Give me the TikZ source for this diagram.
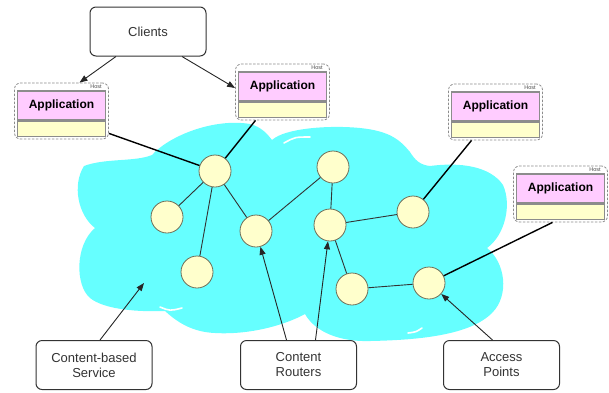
\documentclass[tikz,border=0pt]{standalone}
\usepackage{fontspec}
\setmainfont{Liberation Sans}
\usetikzlibrary{arrows.meta,calc}
\definecolor{cloudc}{HTML}{66FFFF}
\definecolor{pinkc}{HTML}{FFCCFF}
\definecolor{yelc}{HTML}{FFFFCC}
\definecolor{rborder}{HTML}{6E6E58}
\definecolor{boxgray}{HTML}{8C8C8C}
\begin{document}
\begin{tikzpicture}[x=1pt,y=-1pt,
  lbox/.style={draw=black!80, line width=1pt, rounded corners=6pt, fill=white,
    minimum width=116pt, minimum height=49pt, align=center, inner sep=0pt,
    font=\fontsize{13}{15}\selectfont, text=black!80},
  hostbox/.style={draw=boxgray, dashed, dash pattern=on 2.5pt off 1.5pt, line width=0.8pt,
    rounded corners=6pt, fill=white, minimum width=94pt, minimum height=56pt, inner sep=0pt},
  appbox/.style={draw=boxgray, line width=1.1pt, fill=pinkc, minimum width=88pt,
    minimum height=29pt, inner sep=0pt, font=\bfseries\fontsize{12}{14}\selectfont},
  barbox/.style={draw=boxgray, line width=1.1pt, fill=yelc, minimum width=88pt,
    minimum height=15pt, inner sep=0pt},
  hostlbl/.style={font=\fontsize{5.5}{6}\selectfont, text=black!70, anchor=north east, inner sep=0pt},
  router/.style={circle, draw=rborder, line width=0.8pt, fill=yelc, minimum size=32pt, inner sep=0pt},
  link/.style={draw=black!80, line width=0.9pt},
  hostlink/.style={draw=black, line width=1.4pt},
  arr/.style={draw=black!85, line width=0.9pt, -{Triangle[length=8pt,width=6pt]}},
  glint/.style={draw=white, line width=1.6pt, line cap=round}
]
\useasboundingbox (0,0) rectangle (609,392);

% cloud
\fill[cloudc] (95,228)
  .. controls (78,215) and (72,185) .. (84,166)
  .. controls (105,158) and (135,162) .. (152,155)
  .. controls (170,135) and (215,118) .. (250,124)
  .. controls (262,127) and (268,135) .. (272,140)
  .. controls (285,128) and (330,125) .. (360,128)
  .. controls (390,131) and (400,140) .. (410,152)
  .. controls (415,160) and (420,165) .. (430,166)
  .. controls (460,162) and (490,166) .. (503,185)
  .. controls (512,205) and (505,235) .. (487,248)
  .. controls (505,262) and (510,295) .. (492,313)
  .. controls (470,335) and (420,340) .. (370,341)
  .. controls (340,342) and (315,332) .. (305,314)
  .. controls (285,325) and (250,335) .. (215,333)
  .. controls (190,332) and (175,320) .. (165,311)
  .. controls (140,312) and (105,310) .. (90,298)
  .. controls (75,285) and (75,245) .. (95,228) -- cycle;
\draw[glint] (284,143) .. controls (295,137) .. (310,137);
\draw[glint] (160,307) .. controls (170,311) .. (182,308);
\draw[glint] (408,333) .. controls (416,332) .. (422,328);

% routers
\node[router] (A) at (215,171) {};
\node[router] (B) at (167,217) {};
\node[router] (C) at (197,272) {};
\node[router] (D) at (256,231) {};
\node[router] (E) at (333,167) {};
\node[router] (F) at (330,225) {};
\node[router] (G) at (413,212) {};
\node[router] (H) at (352,289) {};
\node[router] (I) at (429,283) {};
\coordinate (cloudpt) at (144,283);

\draw[link] (A) -- (B);
\draw[link] (A) -- (C);
\draw[link] (A) -- (D);
\draw[link] (D) -- (E);
\draw[link] (E) -- (F);
\draw[link] (F) -- (G);
\draw[link] (F) -- (H);
\draw[link] (H) -- (I);

% hosts
\node[hostbox] (h1) at (61.5,111) {};
\node[appbox] (h1a) at (61.5,105.5) {Application};
\node[barbox] (h1b) at (61.5,129) {};
\node[hostlbl] (h1l) at ($(h1.north east)+(-7,1.5)$) {Host};

\node[hostbox] (h2) at (282.5,92) {};
\node[appbox] (h2a) at (282.5,86.5) {Application};
\node[barbox] (h2b) at (282.5,110) {};
\node[hostlbl] (h2l) at ($(h2.north east)+(-7,1.5)$) {Host};

\node[hostbox] (h3) at (495.5,112) {};
\node[appbox] (h3a) at (495.5,106.5) {Application};
\node[barbox] (h3b) at (495.5,130) {};
\node[hostlbl] (h3l) at ($(h3.north east)+(-7,1.5)$) {Host};

\node[hostbox] (h4) at (560.5,194) {};
\node[appbox] (h4a) at (560.5,188.5) {Application};
\node[barbox] (h4b) at (560.5,212) {};
\node[hostlbl] (h4l) at ($(h4.north east)+(-7,1.5)$) {Host};

\draw[hostlink] ($(h1.south east)+(0,-6)$) -- (A);
\draw[hostlink] ($(h2.south)+(-27,0)$) -- (A);
\draw[hostlink] ($(h3.south)+(-24,0)$) -- (G);
\draw[hostlink] ($(h4.south)+(-8,0)$) -- (I);

% label boxes
\node[lbox] (cl) at (148,31.5) {Clients};
\node[lbox] (cb) at (94,365) {Content-based\\Service};
\node[lbox] (cr) at (298.5,365) {Content\\Routers};
\node[lbox] (ap) at (501.5,365) {Access\\Points};

\draw[arr] ($(cl.south)+(-32,0)$) -- ($(h1.north)+(18,0)$);
\draw[arr] ($(cl.south)+(34,0)$) -- ($(h2.west)+(0,-4)$);
\draw[arr] ($(cb.north)+(6,0)$) -- (cloudpt);
\draw[arr] ($(cr.north)+(-12,0)$) -- (D);
\draw[arr] ($(cr.north)+(17,0)$) -- (F);
\draw[arr] ($(ap.north)+(-9,0)$) -- (I);
\end{tikzpicture}
\end{document}
